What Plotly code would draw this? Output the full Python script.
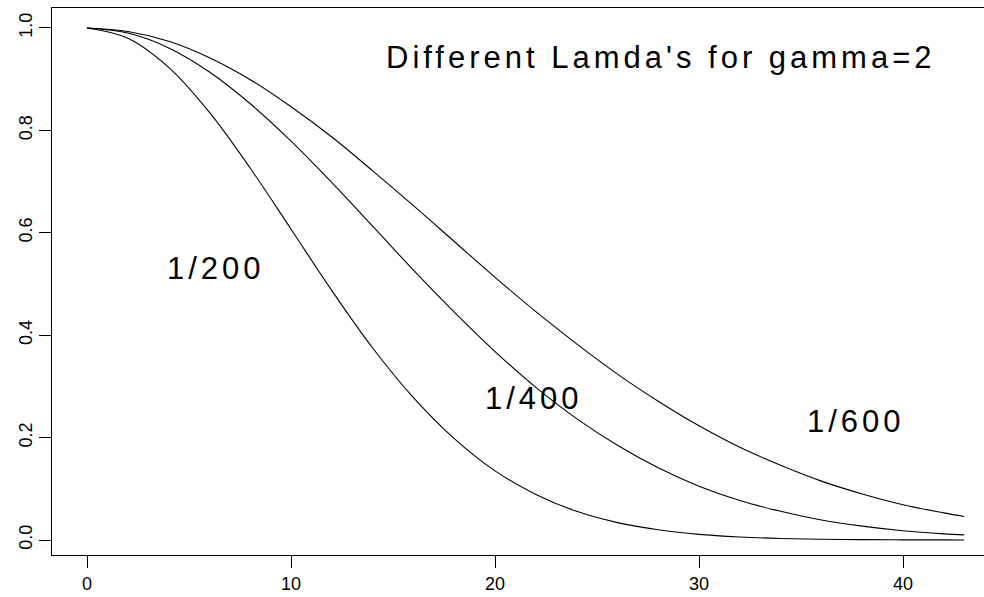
import plotly.graph_objects as go

x_vals = [0, 2, 4, 6, 8, 10, 12, 14, 16, 18, 20, 22, 24, 26, 28, 30, 32, 34, 36, 38, 40, 42, 43]
y_200 = [1.000, 0.980, 0.923, 0.835, 0.726, 0.607, 0.487, 0.375, 0.278, 0.198, 0.135, 0.089,
         0.056, 0.034, 0.020, 0.011, 0.006, 0.003, 0.0015, 0.0007, 0.0003, 0.00015, 0.0001]
y_400 = [1.000, 0.990, 0.961, 0.914, 0.852, 0.779, 0.698, 0.613, 0.527, 0.445, 0.368, 0.298,
         0.237, 0.185, 0.141, 0.105, 0.077, 0.056, 0.039, 0.027, 0.018, 0.012, 0.010]
y_600 = [1.000, 0.993, 0.974, 0.942, 0.899, 0.846, 0.787, 0.721, 0.653, 0.583, 0.513, 0.446,
         0.383, 0.324, 0.271, 0.223, 0.181, 0.146, 0.115, 0.090, 0.069, 0.053, 0.046]

series_names = ["1/200", "1/400", "1/600"]
label_x = [3.8, 19.4, 35.2]
label_y = [0.531, 0.277, 0.231]
title_text = "Different Lamda's for gamma=2"
x_ticks = [0, 10, 20, 30, 40]
y_ticks = [0.0, 0.2, 0.4, 0.6, 0.8, 1.0]

FONT = "Liberation Sans, Arial, sans-serif"
SPACING = 4  # px letter spacing applied in the page

fig = go.Figure()
for ys, nm in zip([y_200, y_400, y_600], series_names):
    fig.add_trace(go.Scatter(x=x_vals, y=ys, mode="lines", name=nm,
                             line=dict(color="black", width=1.1, shape="spline", smoothing=1.0),
                             showlegend=False, hoverinfo="skip"))

for nm, lx, ly in zip(series_names, label_x, label_y):
    fig.add_annotation(x=lx, y=ly, text=nm, showarrow=False, xanchor="left", yanchor="middle",
                       xshift=len(nm) * SPACING / 2,
                       font=dict(family=FONT, size=31, color="black"))

fig.add_annotation(x=14.56, y=0.942, text=title_text, showarrow=False, xanchor="left",
                   yanchor="middle", xshift=len(title_text) * SPACING / 2,
                   font=dict(family=FONT, size=31, color="black"))

fig.update_layout(
    width=984, height=597,
    margin=dict(l=52, r=0, t=8, b=42),
    paper_bgcolor="white", plot_bgcolor="white",
    font=dict(family=FONT, color="black"),
    xaxis=dict(range=[-1.72, 43.97], tickvals=x_ticks, ticktext=[str(v) for v in x_ticks],
               showgrid=False, zeroline=False, showline=True, linecolor="black", linewidth=1,
               mirror=True, ticks="outside", ticklen=12, tickcolor="black", tickwidth=1,
               tickfont=dict(family=FONT, size=18, color="black")),
    yaxis=dict(range=[-0.0293, 1.039], tickvals=y_ticks, ticktext=[f"{v:.1f}" for v in y_ticks],
               showgrid=False, zeroline=False, showline=True, linecolor="black", linewidth=1,
               ticks="outside", ticklen=12, tickcolor="black", tickwidth=1, tickangle=-90,
               tickfont=dict(family=FONT, size=18, color="black")),
)

post = """
document.querySelectorAll('.annotation-text').forEach(function(e){ e.style.letterSpacing='%dpx'; });
""" % SPACING
fig.write_html("out.html", post_script=post)
